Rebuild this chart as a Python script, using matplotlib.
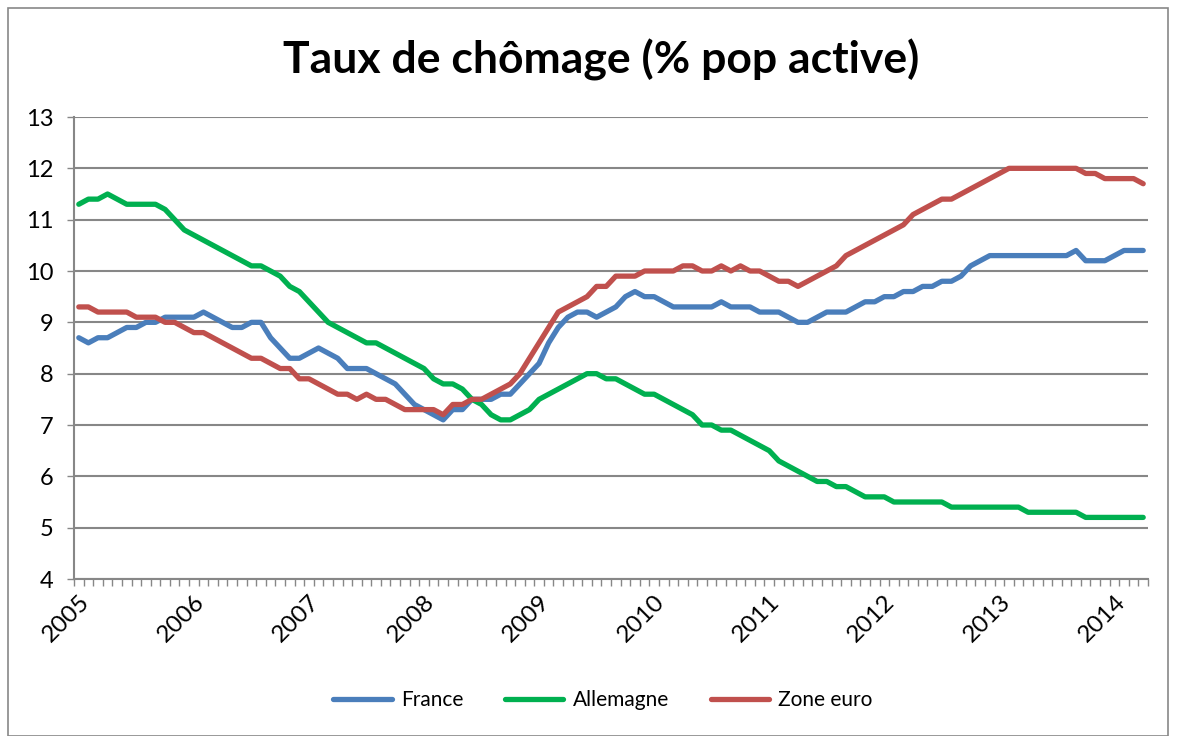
import matplotlib
matplotlib.use("Agg")
import matplotlib.pyplot as plt
from matplotlib.patches import Rectangle

plt.rcParams['font.family'] = ['Lato', 'DejaVu Sans']

# Monthly unemployment rates, Jan 2005 -> Apr 2014 (112 months)
years = ['2005', '2006', '2007', '2008', '2009', '2010', '2011', '2012', '2013', '2014']

france = [8.7, 8.6, 8.7, 8.7, 8.8, 8.9, 8.9, 9.0, 9.0, 9.1, 9.1, 9.1,
          9.1, 9.2, 9.1, 9.0, 8.9, 8.9, 9.0, 9.0, 8.7, 8.5, 8.3, 8.3,
          8.4, 8.5, 8.4, 8.3, 8.1, 8.1, 8.1, 8.0, 7.9, 7.8, 7.6, 7.4,
          7.3, 7.2, 7.1, 7.3, 7.3, 7.5, 7.5, 7.5, 7.6, 7.6, 7.8, 8.0,
          8.2, 8.6, 8.9, 9.1, 9.2, 9.2, 9.1, 9.2, 9.3, 9.5, 9.6, 9.5,
          9.5, 9.4, 9.3, 9.3, 9.3, 9.3, 9.3, 9.4, 9.3, 9.3, 9.3, 9.2,
          9.2, 9.2, 9.1, 9.0, 9.0, 9.1, 9.2, 9.2, 9.2, 9.3, 9.4, 9.4,
          9.5, 9.5, 9.6, 9.6, 9.7, 9.7, 9.8, 9.8, 9.9, 10.1, 10.2, 10.3,
          10.3, 10.3, 10.3, 10.3, 10.3, 10.3, 10.3, 10.3, 10.4, 10.2, 10.2, 10.2,
          10.3, 10.4, 10.4, 10.4]

allemagne = [11.3, 11.4, 11.4, 11.5, 11.4, 11.3, 11.3, 11.3, 11.3, 11.2, 11.0, 10.8,
             10.7, 10.6, 10.5, 10.4, 10.3, 10.2, 10.1, 10.1, 10.0, 9.9, 9.7, 9.6,
             9.4, 9.2, 9.0, 8.9, 8.8, 8.7, 8.6, 8.6, 8.5, 8.4, 8.3, 8.2,
             8.1, 7.9, 7.8, 7.8, 7.7, 7.5, 7.4, 7.2, 7.1, 7.1, 7.2, 7.3,
             7.5, 7.6, 7.7, 7.8, 7.9, 8.0, 8.0, 7.9, 7.9, 7.8, 7.7, 7.6,
             7.6, 7.5, 7.4, 7.3, 7.2, 7.0, 7.0, 6.9, 6.9, 6.8, 6.7, 6.6,
             6.5, 6.3, 6.2, 6.1, 6.0, 5.9, 5.9, 5.8, 5.8, 5.7, 5.6, 5.6,
             5.6, 5.5, 5.5, 5.5, 5.5, 5.5, 5.5, 5.4, 5.4, 5.4, 5.4, 5.4,
             5.4, 5.4, 5.4, 5.3, 5.3, 5.3, 5.3, 5.3, 5.3, 5.2, 5.2, 5.2,
             5.2, 5.2, 5.2, 5.2]

zone_euro = [9.3, 9.3, 9.2, 9.2, 9.2, 9.2, 9.1, 9.1, 9.1, 9.0, 9.0, 8.9,
             8.8, 8.8, 8.7, 8.6, 8.5, 8.4, 8.3, 8.3, 8.2, 8.1, 8.1, 7.9,
             7.9, 7.8, 7.7, 7.6, 7.6, 7.5, 7.6, 7.5, 7.5, 7.4, 7.3, 7.3,
             7.3, 7.3, 7.2, 7.4, 7.4, 7.5, 7.5, 7.6, 7.7, 7.8, 8.0, 8.3,
             8.6, 8.9, 9.2, 9.3, 9.4, 9.5, 9.7, 9.7, 9.9, 9.9, 9.9, 10.0,
             10.0, 10.0, 10.0, 10.1, 10.1, 10.0, 10.0, 10.1, 10.0, 10.1, 10.0, 10.0,
             9.9, 9.8, 9.8, 9.7, 9.8, 9.9, 10.0, 10.1, 10.3, 10.4, 10.5, 10.6,
             10.7, 10.8, 10.9, 11.1, 11.2, 11.3, 11.4, 11.4, 11.5, 11.6, 11.7, 11.8,
             11.9, 12.0, 12.0, 12.0, 12.0, 12.0, 12.0, 12.0, 12.0, 11.9, 11.9, 11.8,
             11.8, 11.8, 11.8, 11.7]

n = len(france)
x = list(range(n))
grey = '#878787'

fig = plt.figure(figsize=(11.78, 7.36), dpi=100)
ax = fig.add_axes([74 / 1178, 1 - 579 / 736, (1148 - 74) / 1178, (579 - 117) / 736])

ax.plot(x, france, color='#4A7EBB', lw=3.8, label='France', solid_joinstyle='round', solid_capstyle='round')
ax.plot(x, allemagne, color='#00B050', lw=3.8, label='Allemagne', solid_joinstyle='round', solid_capstyle='round')
ax.plot(x, zone_euro, color='#C0504D', lw=3.8, label='Zone euro', solid_joinstyle='round', solid_capstyle='round')

ax.set_xlim(-0.5, n - 0.5)
ax.set_ylim(4, 13)
ax.set_yticks(range(4, 14))
ax.grid(axis='y', color=grey, lw=1.5)
ax.set_axisbelow(True)

# year labels on January, month ticks between categories
ax.set_xticks(range(0, n, 12))
ax.set_xticklabels(years, rotation=45, ha='right', va='top', rotation_mode='anchor')
ax.set_xticks([i - 0.5 for i in range(n + 1)], minor=True)
ax.tick_params(axis='x', which='major', length=0, pad=9, labelsize=17.5)
ax.tick_params(axis='x', which='minor', length=5, width=1, color=grey)
ax.tick_params(axis='y', length=5, width=1, color=grey, labelsize=17, pad=10)

for s in ['top', 'right']:
    ax.spines[s].set_visible(False)
for s in ['left', 'bottom']:
    ax.spines[s].set_color(grey)
    ax.spines[s].set_linewidth(1.5)

fig.text(601 / 1178, 1 - 60 / 736, 'Taux de chômage (% pop active)', ha='center', va='center',
         fontsize=32, fontweight='bold')

fig.legend(loc='center', bbox_to_anchor=(603 / 1178, 1 - 700 / 736), ncol=3, frameon=False,
           fontsize=15, handlelength=2.8, columnspacing=2.0, handletextpad=0.45)

fig.patches.append(Rectangle((8 / 1178, 0), 1160 / 1178, 1 - 8 / 736, transform=fig.transFigure,
                             fill=False, edgecolor=grey, lw=1.2))

plt.savefig('out.png', dpi=100)
